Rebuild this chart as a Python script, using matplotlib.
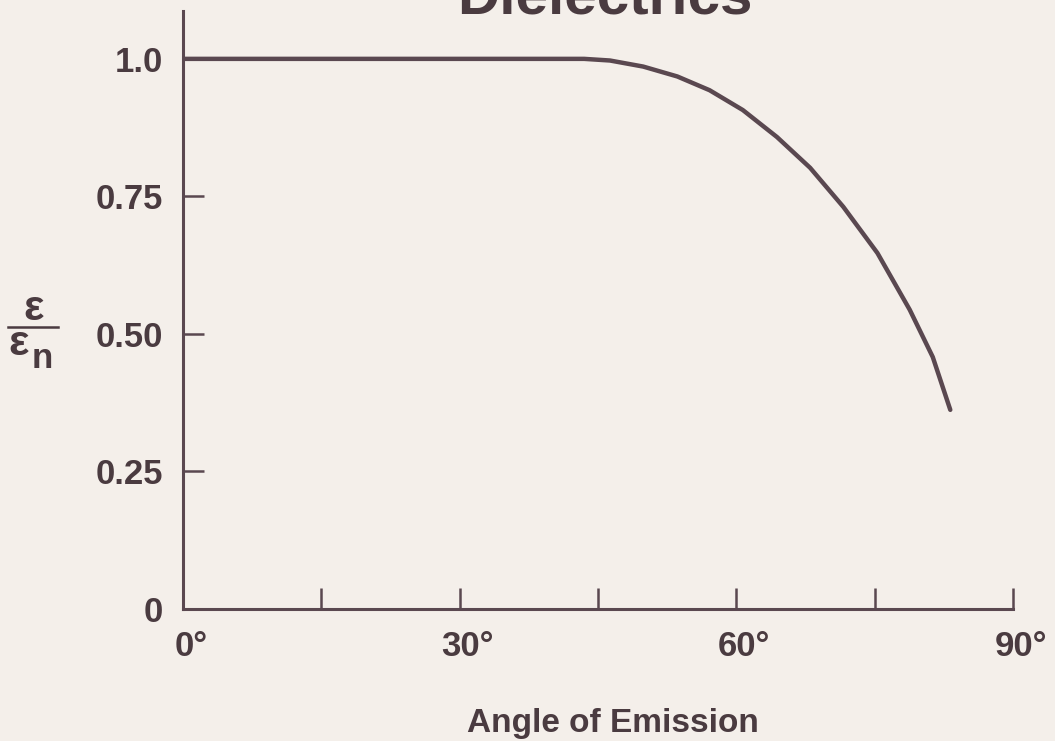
import matplotlib
matplotlib.use('Agg')
import matplotlib.pyplot as plt
from matplotlib.transforms import ScaledTranslation
from matplotlib.lines import Line2D

# ---- data ----
angles = [0, 15, 30, 40, 43.5, 46.3, 49.9, 53.6, 57.1, 60.7, 64.4, 68.0,
          71.6, 75.3, 78.8, 81.3, 83.2]
ratio = [1.0, 1.0, 1.0, 1.0, 1.0, 0.997, 0.986, 0.968, 0.943, 0.907, 0.858, 0.802,
         0.731, 0.647, 0.544, 0.458, 0.362]

x_ticks = [0, 15, 30, 45, 60, 75, 90]
x_tick_labels = ['0°', '', '30°', '', '60°', '', '90°']
y_ticks = [0, 0.25, 0.5, 0.75, 1.0]
y_tick_labels = ['0', '0.25', '0.50', '0.75', '1.0']

title = 'Dielectrics'
x_label = 'Angle of Emission'

# ---- style ----
bg = '#f4efea'
ink = '#5a4850'
txt = '#4a3b40'
plt.rcParams['font.family'] = ['Liberation Sans', 'DejaVu Sans']
plt.rcParams['font.weight'] = 'bold'

W, H = 1055, 741
fig = plt.figure(figsize=(W / 100, H / 100), dpi=100, facecolor=bg)
ax = fig.add_axes([183 / W, (H - 609) / H, 830 / W, 598 / H])
ax.set_facecolor(bg)

ax.plot(angles, ratio, color=ink, lw=3.2, solid_capstyle='round',
        solid_joinstyle='round')

ax.set_xlim(0, 90)
ax.set_ylim(0, 1.087)
for s in ('top', 'right'):
    ax.spines[s].set_visible(False)
for s in ('left', 'bottom'):
    ax.spines[s].set_color(ink)
    ax.spines[s].set_linewidth(2.2)

ax.set_xticks(x_ticks)
ax.set_xticklabels(x_tick_labels)
ax.set_yticks(y_ticks)
ax.set_yticklabels(y_tick_labels)
ax.tick_params(direction='in', length=15, width=1.8, color=ink,
               labelsize=25, labelcolor=txt)
ax.tick_params(axis='y', pad=14.5)
ax.tick_params(axis='x', pad=15)
for lab in ax.get_xticklabels():
    lab.set_fontweight('bold')
    lab.set_transform(lab.get_transform() + ScaledTranslation(8 / 100, 0, fig.dpi_scale_trans))
for lab in ax.get_yticklabels():
    lab.set_fontweight('bold')

def fx(px):
    return px / W

def fy(py):
    return 1 - py / H

fig.text(fx(605), fy(13), title, ha='center', va='baseline',
         fontsize=42, fontweight='bold', color=txt)
fig.text(fx(613), fy(732), x_label, ha='center', va='baseline',
         fontsize=24, fontweight='bold', color=txt)

# y label: epsilon / epsilon_n as a stacked fraction
fig.text(fx(34), fy(309), 'ε', ha='center', va='center', fontsize=31,
         fontweight='bold', color=txt)
fig.add_artist(Line2D([fx(8), fx(58)], [fy(327), fy(327)], transform=fig.transFigure,
                      color=txt, lw=1.8))
fig.text(fx(19), fy(344), 'ε', ha='center', va='center', fontsize=31,
         fontweight='bold', color=txt)
fig.text(fx(42), fy(358), 'n', ha='center', va='center', fontsize=25,
         fontweight='bold', color=txt)

fig.savefig('out.png', dpi=100, facecolor=bg)
